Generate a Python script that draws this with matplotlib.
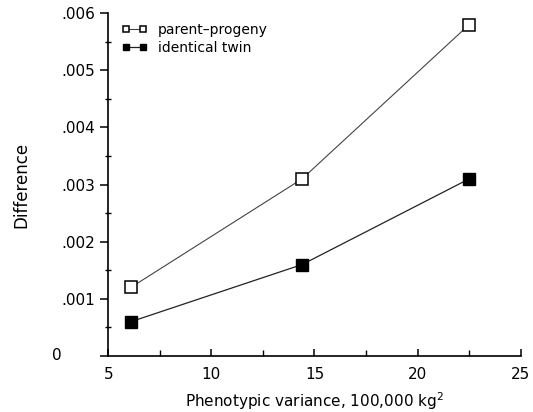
import matplotlib
matplotlib.use("Agg")
import matplotlib.pyplot as plt
from matplotlib.ticker import MultipleLocator, FuncFormatter

variance = [6.1, 14.4, 22.5]
parent_progeny = [0.0012, 0.0031, 0.0058]
identical_twin = [0.0006, 0.0016, 0.0031]

plt.rcParams['font.family'] = ['DejaVu Sans']
fig = plt.figure(figsize=(5.33, 4.12), dpi=100)
ax = fig.add_axes([0.203, 0.136, 0.774, 0.832])

ax.plot(variance, parent_progeny, color='#444444', lw=0.8, marker='s', ms=8,
        mfc='white', mec='black', mew=1.1, label='parent\u2013progeny')
ax.plot(variance, identical_twin, color='#222222', lw=0.9, marker='s', ms=8,
        mfc='black', mec='black', label='identical twin')

ax.set_xlim(5, 25)
ax.set_ylim(0, 0.006)
ax.xaxis.set_major_locator(MultipleLocator(5))
ax.xaxis.set_minor_locator(MultipleLocator(2.5))
ax.yaxis.set_major_locator(MultipleLocator(0.001))
ax.yaxis.set_minor_locator(MultipleLocator(0.0005))

def yfmt(v, pos):
    if abs(v) < 1e-12:
        return ''
    return ('%.3f' % v).lstrip('0')
ax.yaxis.set_major_formatter(FuncFormatter(yfmt))
ax.text(-0.124, 0, '0', transform=ax.get_yaxis_transform(), ha='center',
        va='center', fontsize=11)

for s in ['top', 'right']:
    ax.spines[s].set_visible(False)
for s in ['left', 'bottom']:
    ax.spines[s].set_linewidth(1.2)

ax.tick_params(axis='y', which='major', direction='out', length=6, width=1.1, labelsize=11)
ax.tick_params(axis='y', which='minor', direction='inout', length=5, width=1.0)
ax.tick_params(axis='x', which='major', direction='in', length=5, width=1.1, labelsize=11, pad=8)
ax.tick_params(axis='x', which='minor', direction='in', length=4, width=1.0)

ax.set_xlabel('Phenotypic variance, 100,000 kg$^2$', fontsize=11, labelpad=6)
ax.set_ylabel('Difference', fontsize=12, labelpad=22)

leg = ax.legend(loc='upper left', frameon=False, fontsize=10, markerscale=0.6,
                numpoints=2, handlelength=1.8, handletextpad=0.8, borderaxespad=0.3,
                labelspacing=0.3, bbox_to_anchor=(0.01, 1.0))

fig.savefig('out.png', dpi=100)
